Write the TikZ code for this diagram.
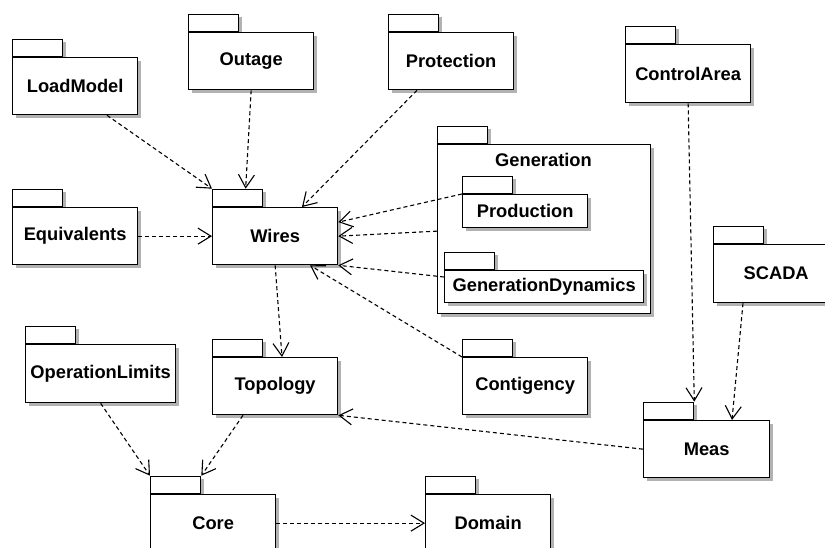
\documentclass[tikz,border=0pt]{standalone}
\usepackage{fontspec}
\setmainfont{Liberation Sans}
\usetikzlibrary{arrows.meta}

\newcommand\pkgfnt{\fontsize{18.3}{21}\selectfont\bfseries}

% UML package: tab on top-left of a shadowed body
% #1 name, #2 x, #3 y (top-left of body), #4 width, #5 height, #6 label
\newcommand\umlpkg[6]{%
  \node[pkgtab] (#1-tab) at (#2,#3) {};
  \node[pkgbody, minimum width=#4pt, minimum height=#5pt] (#1) at (#2,#3) {#6};
}

\tikzset{
  pkgshadow/.style={preaction={draw=none, fill=black!30,
    transform canvas={xshift=3pt, yshift=-3pt}}},
  pkgbody/.style={draw, fill=white, line width=1.3pt, inner sep=0pt, anchor=north west,
    font=\pkgfnt, pkgshadow},
  pkgtab/.style={draw, fill=white, line width=1.3pt, inner sep=0pt, anchor=south west,
    minimum width=50pt, minimum height=17pt, pkgshadow},
  dep/.style={line width=1.1pt, dash pattern=on 4pt off 3pt,
    -{Straight Barb[length=13pt, width=16pt, line width=1.1pt]}},
}

\begin{document}
\begin{tikzpicture}[x=1pt, y=-1pt]
\useasboundingbox (0,0) rectangle (825,548);
\clip (0,0) rectangle (825,548);

% packages
\umlpkg{loadmodel}{12}{57}{125}{57}{LoadModel}
\umlpkg{outage}{188}{32}{125}{57}{Outage}
\umlpkg{protection}{388}{32}{125}{57}{Protection}
\umlpkg{controlarea}{625}{44}{125}{58}{ControlArea}
\umlpkg{equivalents}{12}{207}{125}{57}{Equivalents}
\umlpkg{wires}{212}{207}{125}{57}{Wires}
\umlpkg{generation}{437}{144}{213}{169}{}
\node[font=\pkgfnt] (generation-label) at (543.5,159.5) {Generation};
\umlpkg{production}{462}{194}{125}{33}{Production}
\umlpkg{gendyn}{444}{270}{199}{32}{GenerationDynamics}
\umlpkg{scada}{713}{244}{125}{58}{SCADA}
\umlpkg{oplimits}{25}{344}{150}{58}{OperationLimits}
\umlpkg{topology}{212}{357}{125}{57}{Topology}
\umlpkg{contigency}{462}{357}{125}{57}{Contigency}
\umlpkg{meas}{643}{420}{126}{57}{Meas}
\umlpkg{core}{150}{494}{125}{57}{Core}
\umlpkg{domain}{425}{494}{125}{57}{Domain}

% dependencies
\draw[dep] ([xshift=95pt]loadmodel.south west) -- (wires-tab.north west);
\draw[dep] (outage.south) -- ([xshift=8pt]wires-tab.north);
\draw[dep] ([xshift=29pt]protection.south west) -- ([xshift=90pt]wires.north west);
\draw[dep] (equivalents.east) -- (wires.east -| wires.west);
\draw[dep] (production.north west) -- ([yshift=14pt]wires.east);
\draw[dep] ([yshift=-2pt]generation.west) -- (wires.east);
\draw[dep] ([yshift=-7pt]gendyn.north west) -- (wires.south east);
\draw[dep] (contigency.north west) -- ([xshift=98pt]wires.south west);
\draw[dep] (wires.south) -- ([xshift=70pt]topology.north west);
\draw[dep] (oplimits.south) -- (core-tab.north west);
\draw[dep] ([xshift=31pt]topology.south west) -- (core-tab.north east);
\draw[dep] (core.east) -- (domain.west);
\draw[dep] (meas.west) -- (topology.south east);
\draw[dep] (controlarea.south) -- (meas-tab.north east);
\draw[dep] ([xshift=30pt]scada.south west) -- ([xshift=89pt]meas.north west);
\end{tikzpicture}
\end{document}
